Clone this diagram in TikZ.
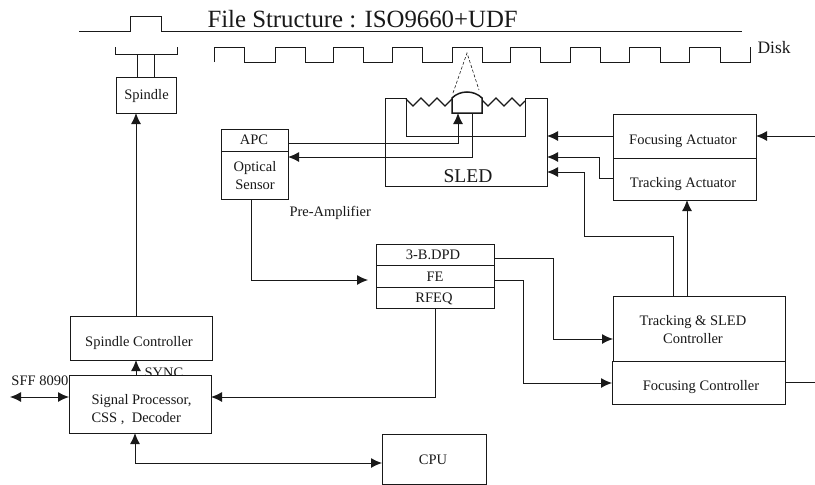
\documentclass[tikz,border=0pt]{standalone}
\usepackage{fontspec}
\setmainfont{Liberation Serif}
\usetikzlibrary{arrows.meta}
\tikzset{
  x=1pt,y=-1pt,
  every path/.style={line width=1pt,draw=black!90},
  box/.style={draw,line width=1.1pt,minimum width=0pt,inner sep=0pt,anchor=north west},
  lbl/.style={inner sep=0pt,font=\fontsize{14.5}{18}\selectfont,align=center,text=black!90},
  arr/.style={-{Latex[length=11pt,width=10pt]}},
  darr/.style={{Latex[length=11pt,width=10pt]}-{Latex[length=11pt,width=10pt]}},
}
\newcommand{\bx}[5]{\node[box,minimum width=#3-#2,minimum height=#5-#4] (#1) at (#2,#4) {};}
\begin{document}
\begin{tikzpicture}
\useasboundingbox[fill=white,draw=none] (0,0) rectangle (815,485);
% disk
\coordinate (dl) at (79,31); \coordinate (dr) at (742,31);
\draw (dl) -- (130,31) -- (130,16) -- (161,16) -- (161,31) -- (dr);
\node[lbl,font=\fontsize{24.8}{26}\selectfont,anchor=base west] (title) at (207,27.5) {File Structure : ISO9660+UDF};
\draw (214,62) -- (214,47) -- (244,47) -- (244,62) -- (275,62) -- (275,47) -- (305,47) -- (305,62) -- (333,62) -- (333,47) -- (363,47) -- (363,62) -- (392,62) -- (392,47) -- (422,47) -- (422,62) -- (452,62) -- (452,47) -- (482,47) -- (482,62) -- (510,62) -- (510,47) -- (540,47) -- (540,62) -- (570,62) -- (570,47) -- (600,47) -- (600,62) -- (629,62) -- (629,47) -- (660,47) -- (660,62) -- (689,62) -- (689,47) -- (720,47) -- (720,62) -- (750,62) -- (750,47);
\node[lbl,font=\fontsize{17.5}{20}\selectfont,anchor=base west] (disk) at (757,53) {Disk};
% spindle
\draw (115,47) -- (115,54) -- (177,54) -- (177,47);
\bx{spindle}{116}{176}{77}{113}
\node[lbl] at (spindle.center) {Spindle};
\draw (137,54) -- (137,77);
\draw (154,54) -- (154,77);
% SLED
\draw (406,98) -- (385,98) -- (385,186) -- (547,186) -- (547,98) -- (525,98) -- (525,136) -- (406,136) -- cycle;
\node[lbl,font=\fontsize{19.5}{22}\selectfont] (sled) at (468,176) {SLED};
\draw[line width=1.2pt] (406,99) -- (413,106) -- (421,98) -- (429,106) -- (437,98) -- (445,106) -- (452,99);
\draw[line width=1.2pt] (482,100) -- (488,106) -- (496,98) -- (504,106) -- (512,98) -- (520,106) -- (525,101);
\draw[fill=white,line width=1.5pt] (452,113) -- (452,98) .. controls (460,90) and (474,90) .. (482,98) -- (482,113) -- cycle;
\draw[densely dashed,line width=0.6pt] (453,93) -- (467,53) -- (479,90);
% APC
\bx{apc}{221}{288}{129}{199}
\draw (221,151) -- (288,151);
\node[lbl] at (254,140) {APC};
\node[lbl,text width=60pt] at (255,176) {Optical\\Sensor};
\node[lbl,anchor=base west] (pre) at (289,216) {Pre-Amplifier};
\draw[arr] (288,143) -- (458,143) -- (458,113);
\draw[arr] (472,113) -- (472,157) -- (288,157);
% Actuators
\bx{act}{613}{756}{114}{200}
\draw (613,158) -- (756,158);
\node[lbl] at (683,141) {Focusing Actuator};
\node[lbl] at (683,184) {Tracking Actuator};
\draw[arr] (613,136) -- (547,136);
\draw[arr] (613,178) -- (599,178) -- (599,157) -- (547,157);
\draw[arr] (815,136) -- (756,136);
% Pre-amp
\bx{pa}{376}{494}{244}{308}
\draw (376,265) -- (494,265) (376,287) -- (494,287);
\node[lbl] at (433,255) {3-B.DPD};
\node[lbl] at (435,277) {FE};
\node[lbl] at (434,299) {RFEQ};
\draw[arr] (251,199) -- (251,280) -- (368,280);
% Controllers
\bx{trk}{613}{785}{296}{361}
\bx{foc}{612}{785}{361}{404}
\node[lbl] at (693,330) {Tracking \& SLED\\Controller};
\node[lbl] at (701,387) {Focusing Controller};
\draw[arr] (494,258) -- (553,258) -- (553,339) -- (613,339);
\draw[arr] (494,280) -- (523,280) -- (523,383) -- (612,383);
\draw[arr] (673,296) -- (673,236) -- (584,236) -- (584,172) -- (547,172);
\draw[arr] (687,296) -- (687,200);
\draw (785,382) -- (815,382);
% Left column
\bx{spc}{70}{212}{316}{360}
\node[lbl] at (139,343) {Spindle Controller};
\bx{sig}{69}{211}{375}{433}
\node[lbl,align=left,anchor=west] at (91,410) {Signal Processor,\\CSS ,\ \ Decoder};
\draw[arr] (136,316) -- (136,113);
\draw[arr] (136,375) -- (136,360);
\node[lbl,anchor=base west] (sync) at (144,377.5) {SYNC};
\fill[white] (140,375.5) rectangle (200,382);
\draw (69,375) -- (211,375);
\node[lbl,anchor=base west] (sff) at (11,385) {SFF 8090};
\draw[darr] (10,397) -- (69,397);
\draw[arr] (435,308) -- (435,397) -- (211,397);
\bx{cpu}{382}{486}{434}{484}
\node[lbl] at (433,460) {CPU};
\draw[darr] (135,433) -- (135,463) -- (382,463);
\end{tikzpicture}
\end{document}
